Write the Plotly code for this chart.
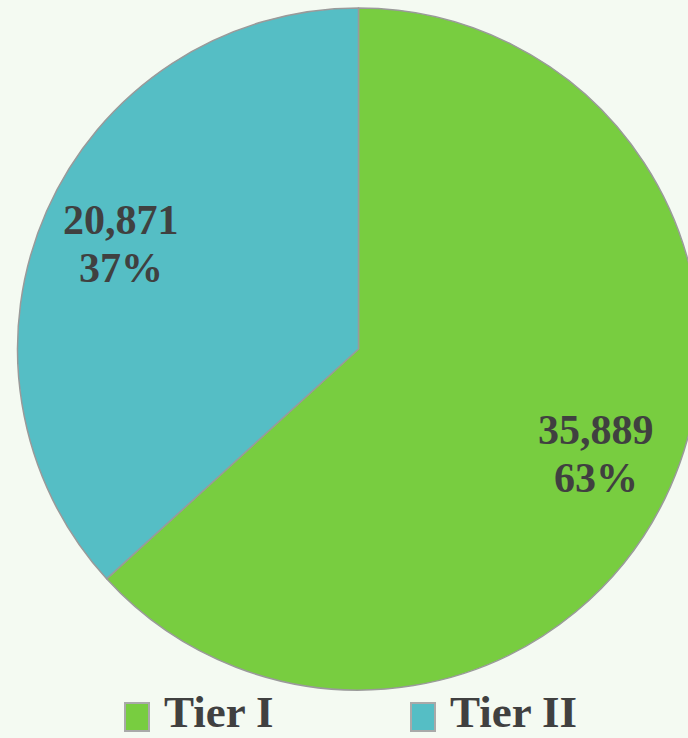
import math
import plotly.graph_objects as go

categories = ["Tier I", "Tier II"]
values = [35889, 20871]
colors = ["#78CD40", "#55BEC5"]

W, H = 710, 738
ML, MR, MT, MB = 17, 10, 8, 48
pw, ph = W - ML - MR, H - MT - MB
R = min(pw, ph) / 2


def px_to_paper(px, py):
    return (px - ML) / pw, (H - MB - py) / ph


fig = go.Figure()
fig.add_trace(go.Pie(
    labels=categories,
    values=values,
    sort=False,
    direction="clockwise",
    rotation=0,
    marker=dict(colors=colors, line=dict(color="#9A9A9A", width=1.5)),
    textinfo="none",
    hoverinfo="label+value+percent",
    showlegend=False,
))

label_font = dict(family="Liberation Serif", size=42, color="#404040", weight="bold")

# data labels placed at the mid-angle of each slice (computed from the values)
total = sum(values)
cum = 0
for v in values:
    mid = (cum + v / 2) / total * 2 * math.pi
    cum += v
    rr = 0.76 * R
    x = 0.5 + rr * math.sin(mid) / pw
    y = 0.5 + rr * math.cos(mid) / ph
    for txt, shift in ((f"{v:,}", 24), (f"{round(v / total * 100)}%", -24)):
        fig.add_annotation(
            x=x, y=y, xref="paper", yref="paper", yshift=shift,
            text=txt, showarrow=False, font=label_font,
            xanchor="center", yanchor="middle",
        )

# legend (square swatch + bold serif name) along the bottom
legend_font = dict(family="Liberation Serif", size=45, color="#404040", weight="bold")
for i, (name, col) in enumerate(zip(categories, colors)):
    sx = 125 + i * 286
    x0, y0 = px_to_paper(sx, 731)
    x1, y1 = px_to_paper(sx + 24, 703)
    fig.add_shape(
        type="rect", xref="paper", yref="paper",
        x0=x0, y0=y0, x1=x1, y1=y1,
        fillcolor=col, line=dict(color="#A9A9A9", width=2),
    )
    tx, ty = px_to_paper(sx + 37, 711.5)
    fig.add_annotation(
        x=tx, y=ty, xref="paper", yref="paper",
        text=name, showarrow=False, font=legend_font,
        xanchor="left", yanchor="middle",
    )

fig.update_layout(
    width=W,
    height=H,
    margin=dict(l=ML, r=MR, t=MT, b=MB, autoexpand=False),
    paper_bgcolor="#F4FAF2",
    plot_bgcolor="#F4FAF2",
)

fig.write_html(
    "out.html",
    post_script="document.body.style.overflow='hidden';document.documentElement.style.overflow='hidden';document.body.style.margin='0';",
)
